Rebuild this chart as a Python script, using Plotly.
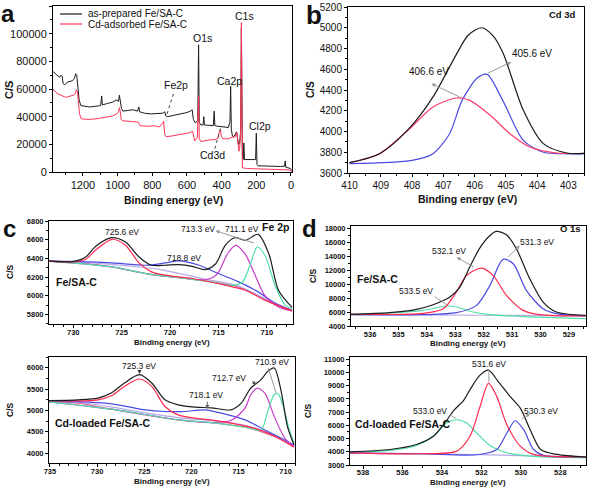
import plotly.graph_objects as go

W, H = 589, 487
FONT = "Arial, Liberation Sans, sans-serif"

# ---------------- data ----------------
# (a) survey spectra
survey_x_prepared = [1372, 1362, 1350, 1335, 1327, 1320, 1315, 1305, 1290, 1275, 1260, 1250, 1242, 1236, 1230,
                     1222, 1212, 1190, 1160, 1130, 1098, 1092, 1088, 1060, 1030, 1005, 995, 990, 985, 978, 970,
                     940, 910, 885, 878, 873, 845, 810, 770, 740, 728, 722, 712, 670, 630, 600, 580, 570, 563,
                     552, 538, 533, 529, 520, 507, 503, 499, 470, 448, 443, 439, 420, 400, 380, 362, 352, 348,
                     344, 338, 330, 322, 314, 308, 302, 296, 290, 286, 283, 280, 275, 272, 268, 240, 215, 204,
                     200, 196, 190, 150, 100, 60, 38, 33, 30, 15, 3, -6]
survey_y_prepared = [72500, 71000, 70000, 68500, 70000, 69000, 64000, 63000, 65000, 65500, 66000, 67500, 71000,
                     70000, 62000, 52000, 48000, 47500, 47000, 47500, 48000, 55000, 48500, 49500, 50500, 52000,
                     51000, 55500, 52000, 46000, 44000, 44500, 45000, 44000, 47000, 43500, 42500, 42000, 42000,
                     42500, 43500, 40500, 40000, 41000, 42000, 43000, 44000, 45000, 38000, 35500, 37000, 92000,
                     36000, 34000, 34000, 40000, 34000, 33500, 33500, 44000, 33500, 33000, 33000, 32500, 32000,
                     36000, 62000, 31000, 26000, 25500, 27000, 29000, 24000, 20000, 21000, 30000, 104000, 26000,
                     9500, 9000, 21000, 9000, 9000, 8800, 9000, 28000, 5500, 4500, 4200, 4000, 4000, 4200, 8000,
                     3500, 3000, 2500, 1000]
survey_x_cd = [1372, 1360, 1345, 1330, 1315, 1300, 1285, 1270, 1255, 1245, 1238, 1232, 1226, 1220, 1210, 1170,
               1120, 1070, 1030, 1005, 995, 990, 985, 980, 970, 920, 880, 870, 820, 790, 760, 742, 735, 728, 720,
               690, 650, 610, 580, 568, 562, 555, 540, 533, 529, 520, 480, 440, 420, 414, 407, 402, 392, 360,
               345, 322, 312, 305, 300, 296, 290, 286, 283, 280, 250, 200, 100, 50, 10, -6]
survey_y_cd = [60000, 58000, 56500, 55500, 55000, 54000, 54500, 55000, 55500, 56500, 59500, 58000, 50000, 42000,
               38500, 38000, 38500, 39500, 40500, 42000, 43500, 46500, 44000, 38000, 37000, 36500, 36000, 33500,
               33000, 33500, 32500, 35000, 36500, 27000, 25500, 26000, 27000, 28000, 28500, 29500, 27000, 22500,
               25000, 55000, 24000, 22000, 23000, 23500, 24500, 29000, 30500, 26000, 24000, 24000, 25000, 25500,
               28500, 22000, 15000, 17000, 30000, 108000, 20000, 3000, 2500, 2200, 2000, 1800, 1500, 500]

# (b) Cd 3d
cd_env_x = [410.0, 409.04, 408.1, 407.33, 406.6, 406.2, 405.78, 405.4, 405.08, 404.44, 403.8, 403.05, 402.5]
cd_env_y = [3700, 3786, 4027, 4333, 4734, 4930, 5000, 4920, 4750, 4204, 3883, 3793, 3790]
cd_p1_x = [410.0, 409.04, 408.08, 407.33, 406.58, 406.15, 405.5, 404.87, 404.23, 403.37, 402.5]
cd_p1_y = [3700, 3786, 4027, 4236, 4323, 4300, 4156, 3979, 3851, 3793, 3790]
cd_p2_x = [410.0, 408.0, 407.33, 406.8, 406.4, 405.9, 405.6, 405.1, 404.44, 403.8, 403.0, 402.5]
cd_p2_y = [3690, 3722, 3786, 3979, 4300, 4520, 4551, 4300, 3915, 3800, 3785, 3785]

# (c) Fe 2p, as-prepared
fe1_env_x = [732.5, 730.1, 728.7, 727.7, 726.0, 724.6, 723.2, 721.9, 720.5, 719.1, 717.7, 716.4, 715.3, 714.3,
             713.3, 712.2, 710.9, 709.8, 708.8, 707.4]
fe1_env_y = [6372, 6365, 6415, 6528, 6621, 6575, 6415, 6326, 6326, 6333, 6315, 6280, 6340, 6540, 6621, 6593,
             6657, 6450, 6059, 5875]
fe1_bg_x = [732.5, 729.4, 726.0, 722.5, 719.1, 715.7, 712.9, 710.2, 707.4]
fe1_bg_y = [6370, 6351, 6308, 6237, 6194, 6148, 6095, 5960, 5838]
fe1_bg2_x = [732.5, 729.4, 726.0, 723.5, 721.0, 718.5, 716.0, 713.0, 710.5, 707.4]
fe1_bg2_y = [6370, 6358, 6335, 6310, 6280, 6225, 6170, 6105, 5985, 5840]
fe1_p7256_x = [732.5, 730.1, 728.7, 727.7, 726.0, 724.6, 723.2, 721.9, 720.5, 717.7, 714.3, 712.2, 710.2, 707.4]
fe1_p7256_y = [6370, 6362, 6390, 6486, 6604, 6540, 6351, 6255, 6220, 6184, 6113, 6059, 5953, 5838]
fe1_p7188_x = [732.5, 729.4, 726.0, 722.5, 720.5, 719.1, 717.0, 715.0, 712.9, 710.9, 708.8, 707.4]
fe1_p7188_y = [6370, 6365, 6351, 6326, 6351, 6372, 6326, 6237, 6148, 6041, 5899, 5844]
fe1_p7133_x = [732.5, 726.0, 722.5, 719.1, 716.4, 715.5, 715.0, 714.0, 713.2, 712.2, 711.3, 710.2, 708.8, 707.4]
fe1_p7133_y = [6370, 6308, 6237, 6194, 6170, 6200, 6250, 6460, 6540, 6440, 6240, 6000, 5880, 5838]
fe1_p7111_x = [732.5, 726.0, 722.5, 719.1, 715.7, 713.6, 712.5, 711.7, 711.0, 710.2, 709.1, 708.1, 707.4]
fe1_p7111_y = [6370, 6308, 6237, 6194, 6148, 6110, 6150, 6340, 6521, 6433, 6095, 5899, 5860]

# (c) Fe 2p, Cd-loaded
fe2_env_x = [735.1, 732.0, 729.9, 728.5, 727.1, 725.5, 724.2, 722.8, 721.4, 719.6, 717.9, 715.8, 714.7, 713.7,
             712.6, 711.9, 711.2, 710.5, 709.8, 709.1]
fe2_env_y = [5230, 5247, 5287, 5405, 5640, 5835, 5640, 5247, 5129, 5075, 5059, 5012, 5169, 5522, 5718, 5913,
             5992, 5482, 4619, 4188]
fe2_bg_x = [735.1, 732.0, 728.5, 724.9, 721.4, 717.9, 714.3, 712.6, 710.8, 709.1]
fe2_bg_y = [5200, 5169, 5028, 4894, 4777, 4714, 4604, 4502, 4353, 4150]
fe2_bg2_x = [735.1, 732.0, 728.5, 724.9, 721.4, 717.9, 714.3, 711.0, 709.1]
fe2_bg2_y = [5215, 5190, 5080, 4940, 4830, 4760, 4650, 4400, 4170]
fe2_p7253_x = [735.1, 729.9, 728.5, 727.1, 725.5, 724.2, 722.8, 721.4, 719.6, 717.9, 715.8, 713.0, 710.8, 709.1]
fe2_p7253_y = [5225, 5247, 5341, 5561, 5734, 5561, 5090, 4894, 4816, 4777, 4700, 4560, 4353, 4134]
fe2_p7181_x = [735.1, 728.5, 724.9, 722.8, 720.7, 718.6, 716.5, 714.3, 712.2, 710.1, 709.1]
fe2_p7181_y = [5220, 5153, 5012, 4973, 4973, 5012, 4918, 4777, 4541, 4306, 4188]
fe2_p7127_x = [735.1, 728.5, 721.4, 717.9, 715.8, 714.3, 713.7, 713.0, 712.2, 711.2, 710.1, 709.1]
fe2_p7127_y = [5200, 5028, 4777, 4714, 4761, 5051, 5365, 5522, 5405, 4855, 4353, 4150]
fe2_p7109_x = [735.1, 728.5, 721.4, 717.9, 714.3, 712.6, 711.9, 711.2, 710.8, 710.3, 709.6, 709.1]
fe2_p7109_y = [5200, 5028, 4777, 4714, 4604, 4541, 4973, 5365, 5388, 5129, 4541, 4227]

# (d) O 1s, as-prepared
o1_env_x = [536.67, 535.3, 534.36, 533.78, 533.19, 532.84, 532.49, 532.14, 531.78, 531.55, 531.2, 530.85,
            530.38, 529.91, 529.44, 528.41]
o1_env_y = [5678, 5918, 6398, 7069, 8172, 9610, 12487, 15220, 17042, 17618, 17138, 15124, 10809, 7452, 6014, 5534]
o1_bg_x = [536.67, 532.0, 528.41]
o1_bg_y = [5650, 5550, 5450]
o1_p5321_x = [536.67, 534.13, 533.42, 532.96, 532.6, 532.08, 531.67, 531.2, 530.61, 530.03, 528.41]
o1_p5321_y = [5678, 5822, 6493, 8891, 11288, 12343, 11288, 8411, 6254, 5630, 5439]
o1_p5313_x = [536.67, 534.13, 532.96, 532.25, 531.78, 531.32, 530.96, 530.5, 529.91, 529.44, 528.41]
o1_p5313_y = [5630, 5630, 5918, 6973, 9850, 13590, 12967, 9131, 6493, 5774, 5439]
o1_p5335_x = [536.67, 535.3, 534.13, 533.3, 532.96, 532.37, 531.78, 530.61, 528.41]
o1_p5335_y = [5678, 5870, 6254, 6877, 6733, 6014, 5630, 5343, 5055]

# (d) O 1s, Cd-loaded
o2_env_x = [538.68, 536.64, 535.29, 534.44, 533.8, 533.42, 532.9, 532.58, 532.07, 531.64, 531.14, 530.54,
            530.03, 529.53, 529.0, 528.17, 526.68]
o2_env_y = [4000, 4175, 4550, 5175, 6300, 7100, 7900, 8700, 9800, 10175, 9300, 8175, 7300, 5675, 4175, 3800, 3600]
o2_bg_x = [538.68, 532.0, 526.68]
o2_bg_y = [3900, 3780, 3600]
o2_p5330_x = [538.68, 536.64, 535.29, 534.44, 533.76, 533.25, 532.75, 532.24, 531.56, 530.71, 529.53, 526.68]
o2_p5330_y = [3975, 4100, 4475, 5175, 6175, 6425, 6175, 5425, 4475, 3925, 3675, 3550]
o2_p5316_x = [538.68, 535.0, 533.25, 532.58, 532.07, 531.64, 531.22, 530.71, 530.03, 529.36, 526.68]
o2_p5316_y = [3925, 3850, 4050, 5175, 7425, 9175, 8175, 6050, 4425, 3800, 3625]
o2_p5303_x = [538.68, 535.0, 532.24, 531.22, 530.71, 530.29, 529.86, 529.36, 528.85, 526.68]
o2_p5303_y = [3925, 3850, 3775, 4175, 5425, 6350, 5675, 4175, 3725, 3625]

# ---------------- styling ----------------
BLACK = "#1c1c1c"
RED = "#ff2a50"
BLUE = "#4b4be0"
MAGENTA = "#c63ccb"
GREEN = "#50e0a6"
LAVENDER = "#b8a8e8"
PINK = "#e8629e"
GRAY = "#9a9a9a"

fig = go.Figure()


def line(x, y, color, ax, width=1.2, spline=True):
    fig.add_trace(go.Scatter(
        x=x, y=y, mode="lines", xaxis="x" + ax, yaxis="y" + ax, showlegend=False,
        line=dict(color=color, width=width, shape="spline" if spline else "linear", smoothing=0.8),
        hoverinfo="skip"))


# a
line(survey_x_prepared, survey_y_prepared, BLACK, "", width=1, spline=False)
line(survey_x_cd, survey_y_cd, "#ff3355", "", width=1, spline=False)
# b
line(cd_p2_x, cd_p2_y, BLUE, "2")
line(cd_p1_x, cd_p1_y, "#ff3b6b", "2")
line(cd_env_x, cd_env_y, BLACK, "2")
# c top
line(fe1_bg_x, fe1_bg_y, PINK, "3")
line(fe1_bg2_x, fe1_bg2_y, LAVENDER, "3")
line(fe1_p7188_x, fe1_p7188_y, BLUE, "3")
line(fe1_p7133_x, fe1_p7133_y, MAGENTA, "3")
line(fe1_p7111_x, fe1_p7111_y, GREEN, "3")
line(fe1_p7256_x, fe1_p7256_y, RED, "3")
line(fe1_env_x, fe1_env_y, BLACK, "3")
# c bottom
line(fe2_bg_x, fe2_bg_y, PINK, "4")
line(fe2_bg2_x, fe2_bg2_y, LAVENDER, "4")
line(fe2_p7181_x, fe2_p7181_y, BLUE, "4")
line(fe2_p7127_x, fe2_p7127_y, MAGENTA, "4")
line(fe2_p7109_x, fe2_p7109_y, GREEN, "4")
line(fe2_p7253_x, fe2_p7253_y, RED, "4")
line(fe2_env_x, fe2_env_y, BLACK, "4")
# d top
line(o1_bg_x, o1_bg_y, LAVENDER, "5")
line(o1_p5335_x, o1_p5335_y, GREEN, "5")
line(o1_p5313_x, o1_p5313_y, BLUE, "5")
line(o1_p5321_x, o1_p5321_y, RED, "5")
line(o1_env_x, o1_env_y, BLACK, "5")
# d bottom
line(o2_bg_x, o2_bg_y, LAVENDER, "6")
line(o2_p5330_x, o2_p5330_y, GREEN, "6")
line(o2_p5303_x, o2_p5303_y, BLUE, "6")
line(o2_p5316_x, o2_p5316_y, RED, "6")
line(o2_env_x, o2_env_y, BLACK, "6")


def axes(n, xpx, ypx, xr, yr, xd, yd, xm, ym, fs, bold, xstand=0):
    tf = dict(family=FONT, size=fs, color="#111", weight="bold" if bold else "normal")
    common = dict(showline=True, linecolor="black", linewidth=1, mirror=True, showgrid=False,
                  zeroline=False, ticks="outside", ticklen=3, tickwidth=1, tickcolor="black",
                  tickfont=tf, tick0=0, automargin=False)
    xa = dict(common, domain=[xpx[0] / W, xpx[1] / W], range=xr, dtick=xd, ticklabelstandoff=xstand,
              anchor="y" + n, minor=dict(ticks="outside", ticklen=2, dtick=xm, tickcolor="black"))
    ya = dict(common, domain=[1 - ypx[1] / H, 1 - ypx[0] / H], range=yr, dtick=yd, tickformat="d",
              anchor="x" + n, minor=dict(ticks="outside", ticklen=2, dtick=ym, tickcolor="black"))
    fig.update_layout(**{"xaxis" + n: xa, "yaxis" + n: ya})


axes("", (53, 292), (6, 172), [1373, -6], [0, 120000], 200, 20000, 100, 10000, 11, False)
axes("2", (348, 584), (7, 173), [410.05, 402.5], [3600, 5200], 1, 200, 0.5, 100, 10, False)
axes("3", (49, 293), (221, 324), [732.5, 707.3], [5697, 6800], 5, 200, 1, 100, 7.5, True, -2)
axes("4", (49, 295), (357, 463), [735.1, 709.0], [3766, 6250], 5, 500, 1, 250, 7.5, True, -2)
axes("5", (351, 586), (226, 326), [536.67, 528.4], [4000, 18400], 1, 2000, 0.5, 1000, 7.5, True, -2)
axes("6", (350, 586), (357, 465), [538.66, 526.7], [3000, 11175], 2, 1000, 1, 500, 7.5, True, -3)

ann = []
shapes = []


def ptext(text, px, py, size, bold=False, angle=0, xanchor="center"):
    ann.append(dict(text=text, x=px / W, y=1 - py / H, xref="paper", yref="paper", showarrow=False,
                    xanchor=xanchor, yanchor="middle", textangle=angle,
                    font=dict(family=FONT, size=size, color="#111", weight="bold" if bold else "normal")))


def dtext(text, x, y, ax, size, bold=False, xanchor="center"):
    ann.append(dict(text=text, x=x, y=y, xref="x" + ax, yref="y" + ax, showarrow=False,
                    xanchor=xanchor, yanchor="middle",
                    font=dict(family=FONT, size=size, color="#111", weight="bold" if bold else "normal")))


def arrow(x, y, tx, ty, ax, head=2, color=GRAY):
    ann.append(dict(text="", x=x, y=y, ax=tx, ay=ty, xref="x" + ax, yref="y" + ax,
                    axref="x" + ax, ayref="y" + ax, showarrow=True, arrowhead=head,
                    arrowsize=0.8, arrowwidth=1, arrowcolor=color))


def dotted(x0, y0, x1, y1, ax):
    shapes.append(dict(type="line", xref="x" + ax, yref="y" + ax, x0=x0, y0=y0, x1=x1, y1=y1,
                       line=dict(color="#444", width=1, dash="dot")))


# panel letters
ptext("a", 8, 14, 24, True)
ptext("b", 314, 15, 26, True)
ptext("c", 9, 228, 24, True)
ptext("d", 309, 228, 24, True)

# axis titles
for px, py, s in [(173, 200, 10.5), (468, 199, 10.5), (172, 342, 8), (172, 481, 8), (468, 343, 8),
                  (468, 482, 8)]:
    ptext("Binding energy (eV)", px, py, s, True)
for px, py, s in [(9, 90, 11), (311, 90, 10), (10, 272, 8.5), (10, 410, 8.5), (313, 276, 8.5),
                  (308, 411, 8.5)]:
    ptext("C/S", px, py, s, True, angle=-90)

# legend (panel a)
shapes.append(dict(type="line", xref="paper", yref="paper", x0=60 / W, x1=82 / W, y0=1 - 14 / H,
                   y1=1 - 14 / H, line=dict(color=BLACK, width=1.2)))
shapes.append(dict(type="line", xref="paper", yref="paper", x0=60 / W, x1=82 / W, y0=1 - 24 / H,
                   y1=1 - 24 / H, line=dict(color="#ff3355", width=1.2)))
ptext("as-prepared Fe/SA-C", 86, 14, 10, xanchor="left")
ptext("Cd-adsorbed Fe/SA-C", 86, 24.5, 10, xanchor="left")

# panel a peak labels
for t, x, y in [("C1s", 270, 113000), ("O1s", 512, 97000), ("Ca2p", 352, 66000), ("Fe2p", 662, 63000),
                ("Cl2p", 180, 33000), ("Cd3d", 455, 12000)]:
    dtext(t, x, y, "", 10.5)
dotted(715, 42000, 675, 57500, "")
dotted(407, 31500, 440, 16500, "")

# panel b
dtext("Cd 3d", 402.7, 5130, "2", 9.5, True, xanchor="right")
dtext("406.6 eV", 407.45, 4575, "2", 10)
dtext("405.6 eV", 404.15, 4750, "2", 10)
arrow(407.38, 4461, 406.37, 4317, "2")
arrow(404.82, 4670, 405.62, 4557, "2")

# panel c top
dtext("Fe 2p", 707.5, 6735, "3", 10.5, True, xanchor="right")
dtext("725.6 eV", 725.0, 6680, "3", 8.5)
dtext("718.8 eV", 718.6, 6400, "3", 8.5)
dtext("713.3 eV", 717.1, 6715, "3", 8.5)
dtext("711.1 eV", 712.6, 6715, "3", 8.5)
arrow(715.3, 6695, 711.2, 6560, "3")
dtext("Fe/SA-C", 732.0, 6148, "3", 10.5, True, xanchor="left")

# panel c bottom
dtext("725.3 eV", 725.6, 6050, "4", 8.5)
arrow(725.5, 5850, 725.5, 5950, "4", color="#333")
dtext("718.1 eV", 718.4, 5370, "4", 8.5)
arrow(718.3, 5030, 718.3, 5240, "4", color="#666")
dtext("712.7 eV", 716.0, 5760, "4", 8.5)
arrow(713.1, 5600, 713.7, 5710, "4", color="#555")
dtext("710.9 eV", 711.4, 6125, "4", 8.5)
arrow(711.0, 5404, 711.9, 6030, "4", head=0)
dtext("Cd-loaded Fe/SA-C", 734.7, 4713, "4", 10.5, True, xanchor="left")

# panel d top
dtext("O 1s", 528.5, 18000, "5", 9.5, True, xanchor="right")
dtext("532.1 eV", 533.22, 14741, "5", 8.5)
arrow(532.95, 13900, 532.3, 12400, "5")
dtext("531.3 eV", 530.12, 16083, "5", 8.5)
arrow(530.73, 15604, 531.2, 13686, "5")
dtext("533.5 eV", 534.4, 8987, "5", 8.5)
arrow(533.3, 7050, 533.78, 8411, "5", head=0)
dtext("Fe/SA-C", 536.53, 10809, "5", 10.5, True, xanchor="left")

# panel d bottom
dtext("531.6 eV", 531.64, 10625, "6", 8.5)
arrow(531.62, 9250, 531.62, 10350, "6", head=0)
dtext("533.0 eV", 534.6, 7100, "6", 8.5)
arrow(533.6, 6800, 533.2, 6450, "6", head=0)
dtext("530.3 eV", 529.0, 7100, "6", 8.5)
arrow(529.53, 6875, 530.03, 6425, "6")
dtext("Cd-loaded Fe/SA-C", 538.5, 6100, "6", 10.5, True, xanchor="left")

fig.update_layout(width=W, height=H, margin=dict(l=0, r=0, t=0, b=0, autoexpand=False),
                  paper_bgcolor="white", plot_bgcolor="white", showlegend=False,
                  annotations=ann, shapes=shapes, font=dict(family=FONT, color="#111"))

fig.write_html("out.html", config={"displayModeBar": False},
               post_script="document.body.style.margin='0';document.body.style.overflow='hidden';")
